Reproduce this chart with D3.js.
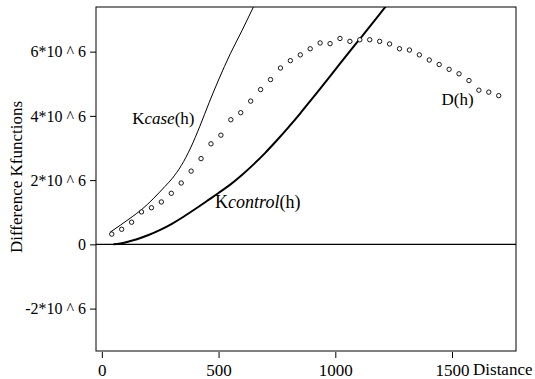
<!DOCTYPE html>
<html>
<head>
<meta charset="utf-8">
<script src="https://cdn.jsdelivr.net/npm/d3@7"></script>
<style>
  html, body { margin: 0; padding: 0; background: #fff; }
  svg { display: block; }
  text { font-family: "Liberation Serif", "Times New Roman", serif; fill: #000; }
</style>
</head>
<body>
<svg id="chart" width="535" height="379"></svg>
<script>
// Distances (h) at which the difference D(h) = Kcase(h) - Kcontrol(h) was evaluated
const dDistance = [42.5, 85, 127.5, 170, 212.5, 255, 297.5, 340, 382.5, 425,
  467.5, 510, 552.5, 595, 637.5, 680, 722.5, 765, 807.5, 850,
  892.5, 935, 977.5, 1020, 1062.5, 1105, 1147.5, 1190, 1232.5, 1275,
  1317.5, 1360, 1402.5, 1445, 1487.5, 1530, 1572.5, 1615, 1657.5, 1700];
// D(h) values, in millions
const dValues = [0.32, 0.47, 0.69, 1.01, 1.14, 1.32, 1.59, 1.91, 2.28, 2.67,
  3.13, 3.40, 3.88, 4.10, 4.46, 4.82, 5.13, 5.49, 5.72, 5.90,
  6.09, 6.27, 6.25, 6.41, 6.32, 6.37, 6.37, 6.32, 6.24, 6.09,
  6.05, 5.90, 5.74, 5.60, 5.45, 5.31, 5.10, 4.80, 4.74, 4.63];

// Kcase(h), in millions
const caseDistance = [36, 80, 130, 170, 220, 270, 300, 340, 380, 420, 460, 500, 550, 600, 652, 700];
const caseValues   = [0.38, 0.60, 0.86, 1.08, 1.42, 1.80, 2.04, 2.45, 3.00, 3.68, 4.42, 5.12, 5.93, 6.65, 7.43, 8.10];

// Kcontrol(h), in millions
const controlDistance = [50, 100, 150, 200, 250, 300, 350, 400, 450, 500, 550, 600, 650, 700,
  750, 800, 850, 900, 950, 1000, 1050, 1100, 1150, 1200, 1250];
const controlValues = [0, 0.06, 0.16, 0.29, 0.45, 0.64, 0.86, 1.10, 1.35, 1.60, 1.86, 2.16, 2.49, 2.85,
  3.24, 3.65, 4.08, 4.53, 4.98, 5.44, 5.90, 6.35, 6.80, 7.26, 7.72];

const xTicks = [0, 500, 1000, 1500];
const yTicks = [-2, 0, 2, 4, 6];

const svg = d3.select("#chart");
const plotLeft = 96, plotRight = 516, plotTop = 7, plotBottom = 351;

const x = d3.scaleLinear().domain([-25, 1774]).range([plotLeft, plotRight]);
const y = d3.scaleLinear().domain([-3.32, 7.39]).range([plotBottom, plotTop]);

svg.append("defs").append("clipPath").attr("id", "plotClip")
  .append("rect").attr("x", plotLeft).attr("y", plotTop)
  .attr("width", plotRight - plotLeft).attr("height", plotBottom - plotTop);

// frame
svg.append("rect")
  .attr("x", plotLeft).attr("y", plotTop)
  .attr("width", plotRight - plotLeft).attr("height", plotBottom - plotTop)
  .attr("fill", "none").attr("stroke", "#000").attr("stroke-width", 1);

// axes
const xAxis = d3.axisBottom(x).tickValues(xTicks).tickSize(6).tickPadding(6)
  .tickFormat(d3.format("d"));
const gx = svg.append("g").attr("transform", `translate(0,${plotBottom + 1})`).call(xAxis);
gx.select(".domain").remove();
gx.selectAll("text").attr("font-size", 17).attr("font-family", "Liberation Serif");

const yAxis = d3.axisLeft(y).tickValues(yTicks).tickSize(6).tickPadding(4)
  .tickFormat(d => d === 0 ? "0" : `${d}*10 ^ 6`);
const gy = svg.append("g").attr("transform", `translate(${plotLeft},0)`).call(yAxis);
gy.select(".domain").remove();
gy.selectAll("text").attr("font-size", 16).attr("font-family", "Liberation Serif");

// x-axis title sits on the tick-label line, after the last tick
svg.append("text")
  .attr("x", x(1500) + 21).attr("y", plotBottom + 24)
  .attr("font-size", 17)
  .text("Distance");

svg.append("text")
  .attr("transform", `translate(22,177) rotate(-90)`)
  .attr("text-anchor", "middle")
  .attr("font-size", 17)
  .text("Difference Kfunctions");

const plot = svg.append("g").attr("clip-path", "url(#plotClip)");

// zero reference line
plot.append("line")
  .attr("x1", plotLeft).attr("x2", plotRight)
  .attr("y1", y(0)).attr("y2", y(0))
  .attr("stroke", "#000").attr("stroke-width", 1.4);

const line = d3.line().x(d => x(d[0])).y(d => y(d[1])).curve(d3.curveMonotoneX);

plot.append("path")
  .datum(caseDistance.map((d, i) => [d, caseValues[i]]))
  .attr("d", line).attr("fill", "none").attr("stroke", "#000").attr("stroke-width", 1);

plot.append("path")
  .datum(controlDistance.map((d, i) => [d, controlValues[i]]))
  .attr("d", line).attr("fill", "none").attr("stroke", "#000").attr("stroke-width", 2);

plot.selectAll("circle.dh")
  .data(dDistance.map((d, i) => [d, dValues[i]]))
  .join("circle").attr("class", "dh")
  .attr("cx", d => x(d[0])).attr("cy", d => y(d[1]))
  .attr("r", 2.2)
  .attr("fill", "#fff").attr("stroke", "#000").attr("stroke-width", 0.9);

// curve labels
function label(xp, yp, size, parts) {
  const t = svg.append("text").attr("x", xp).attr("y", yp).attr("font-size", size);
  parts.forEach(([s, it]) => t.append("tspan").attr("font-style", it ? "italic" : "normal").text(s));
}
label(x(130), y(3.75), 17, [["K", false], ["case", true], ["(h)", false]]);
label(x(485), y(1.13), 18, [["K", false], ["control", true], ["(h)", false]]);
label(x(1455), y(4.35), 17, [["D(h)", false]]);
</script>
</body>
</html>
